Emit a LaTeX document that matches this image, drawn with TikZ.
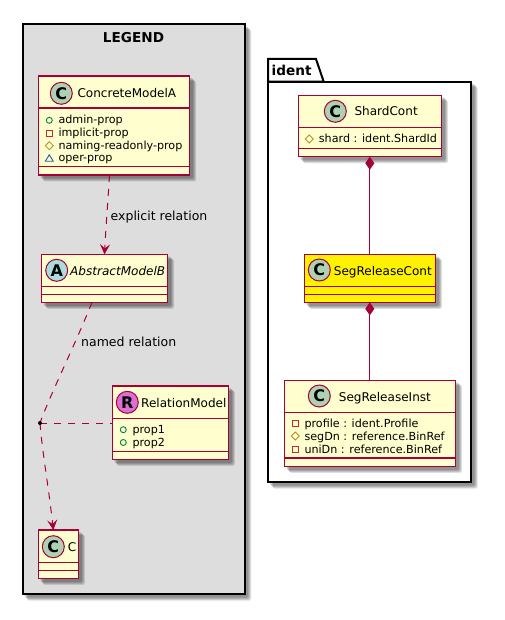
\documentclass[tikz,border=0pt]{standalone}
\usepackage{fontspec}
\setmainfont{DejaVu Sans}
\usetikzlibrary{arrows.meta,shapes.geometric}
\definecolor{umlline}{HTML}{A80036}
\definecolor{umlfill}{HTML}{FEFECE}
\definecolor{circC}{HTML}{ADD1B2}
\definecolor{circA}{HTML}{A9DCDF}
\definecolor{circR}{HTML}{DA70D6}
\definecolor{icoPub}{HTML}{038048}
\definecolor{icoPriv}{HTML}{C82930}
\definecolor{icoProt}{HTML}{B38D22}
\definecolor{icoPkg}{HTML}{1963A0}
\newcommand{\softshadow}[4]{%
  \foreach \k in {6.5,5.5,4.5,3.5}{
    \fill[black,opacity=0.13,rounded corners=1.5pt] ({#1+\k-1.5},{#2+\k-1.5}) rectangle ({#3+\k},{#4+\k});
  }}
\newcommand{\umlclass}[7]{% name x1 y1 x2 y2 fill line-y-list
  \softshadow{#2}{#3}{#4}{#5}
  \node[classbox,fill=#6,minimum width={(#4-#2)*1pt},minimum height={(#5-#3)*1pt},anchor=north west] (#1) at (#2,#3) {};
  \foreach \ly in {#7}{\draw[classline] (#2,\ly) -- (#4,\ly);}
}
\newcommand{\umlcircle}[5]{% name cx cy fill letter
  \node[circlebadge,fill=#4] (#1) at (#2,#3) {\fontsize{16}{16}\bfseries\selectfont #5};
}
\newcommand{\icoPub}[2]{\draw[icoPub,line width=0.9pt] (#1,#2) circle (3pt);}
\newcommand{\icoPriv}[2]{\draw[icoPriv,line width=0.9pt] ({#1-3},{#2-3}) rectangle ({#1+3},{#2+3});}
\newcommand{\icoProt}[2]{\draw[icoProt,line width=0.8pt] ({#1-4},#2) -- (#1,{#2-4}) -- ({#1+4},#2) -- (#1,{#2+4}) -- cycle;}
\newcommand{\icoPkg}[2]{\draw[icoPkg,line width=0.9pt] ({#1-4},{#2+3}) -- (#1,{#2-3.5}) -- ({#1+4},{#2+3}) -- cycle;}
\tikzset{
  x=1pt,y=-1pt,
  classbox/.style={draw=umlline,line width=1.5pt,inner sep=0pt,outer sep=0pt},
  classline/.style={draw=umlline,line width=1.5pt},
  circlebadge/.style={circle,draw=umlline,line width=1pt,minimum size=22pt,inner sep=0pt,text=black},
  titletext/.style={anchor=base west,inner sep=0pt,font=\fontsize{12.05}{16}\selectfont,text=black},
  attrtext/.style={anchor=base west,inner sep=0pt,font=\fontsize{11.15}{13}\selectfont,text=black},
  reltext/.style={anchor=base west,inner sep=0pt,font=\fontsize{12.5}{15}\selectfont,text=black},
  frametext/.style={inner sep=0pt,font=\fontsize{13.6}{16}\bfseries\selectfont,text=black},
  framebox/.style={draw=black,line width=2pt,inner sep=0pt,outer sep=0pt},
  depend/.style={draw=umlline,line width=1pt,dash pattern=on 7pt off 7pt},
  openhead/.style={-{Stealth[length=10pt,width=10pt,inset=4pt,fill=umlline]}},
  compose/.style={draw=umlline,line width=1pt,{Diamond[length=13pt,width=9pt,fill=umlline]}-},
}
\begin{document}
\begin{tikzpicture}
\useasboundingbox (0,0) rectangle (504,620);
\fill[white] (0,0) rectangle (504,620);
% LEGEND frame
\softshadow{22.5}{24.5}{244.5}{594}
\node[framebox,fill=black!13.5,minimum width=222pt,minimum height=569.5pt,anchor=north west] (legend) at (22.5,24.5) {};
\node[frametext,anchor=base] (legendtitle) at (133.5,43) {LEGEND};
% ident frame
\softshadow{268}{81.7}{471}{482}
\node[framebox,fill=white,minimum width=203pt,minimum height=400.3pt,anchor=north west] (identframe) at (268,81.7) {};
\draw[framebox,fill=white] (268,81.7) -- (268,59) -- (316,59) -- (323.7,81.7) -- cycle;
\node[frametext,anchor=base west] (identtitle) at (271.5,76) {ident};
% ConcreteModelA
\umlclass{cma}{38.5}{76}{189.5}{175}{umlfill}{108,166.7}
\umlcircle{cmab}{61.3}{93.3}{circC}{C}
\node[titletext] (cmat) at (77.3,98) {ConcreteModelA};
\icoPub{49.3}{120.3}\icoPriv{49.3}{133}\icoProt{49.3}{145.7}\icoPkg{49.3}{158.3}
\node[attrtext] (cma1) at (58.3,124) {admin-prop};
\node[attrtext] (cma2) at (58.3,136.7) {implicit-prop};
\node[attrtext] (cma3) at (58.3,149.4) {naming-readonly-prop};
\node[attrtext] (cma4) at (58.3,162) {oper-prop};
% AbstractModelB
\umlclass{amb}{41.5}{254.3}{167.5}{302.3}{umlfill}{286.3,294.3}
\umlcircle{ambb}{56.7}{270.3}{circA}{A}
\node[titletext,font=\fontsize{12.05}{16}\itshape\selectfont] (ambt) at (70,275) {AbstractModelB};
% RelationModel
\umlclass{rm}{112.3}{386}{228.3}{459.3}{umlfill}{418.3,451.3}
\umlcircle{rmb}{127.3}{402.3}{circR}{R}
\node[titletext] (rmt) at (141,407) {RelationModel};
\icoPub{123.3}{429.7}\icoPub{123.3}{442.5}
\node[attrtext] (rm1) at (132.3,433.5) {prop1};
\node[attrtext] (rm2) at (132.3,446.3) {prop2};
% C
\umlclass{cc}{38.3}{530}{78.3}{578.3}{umlfill}{562.3,570.3}
\umlcircle{ccb}{53.3}{546.7}{circC}{C}
\node[titletext] (cct) at (67.7,551.5) {C};
% ShardCont
\umlclass{sc}{298.3}{95.3}{441.3}{156.7}{umlfill}{127.7,148.7}
\umlcircle{scb}{335.3}{111.3}{circC}{C}
\node[titletext] (sct) at (354.3,116) {ShardCont};
\icoProt{309.3}{139}
\node[attrtext] (sc1) at (318.7,143) {shard : ident.ShardId};
% SegReleaseCont
\umlclass{src}{304.3}{254.3}{435.3}{302.3}{yellow}{286.3,294.3}
\umlcircle{srcb}{319.3}{270}{circC}{C}
\node[titletext] (srct) at (333.7,275) {SegReleaseCont};
% SegReleaseInst
\umlclass{sri}{284.3}{380.3}{455.3}{466.3}{umlfill}{412.3,458}
\umlcircle{srib}{319.3}{396}{circC}{C}
\node[titletext] (srit) at (338.7,401) {SegReleaseInst};
\icoPriv{295.3}{423}\icoProt{295.3}{436}\icoPriv{295.3}{449}
\node[attrtext] (sri1) at (304.3,427) {profile : ident.Profile};
\node[attrtext] (sri2) at (304.3,440) {segDn : reference.BinRef};
\node[attrtext] (sri3) at (304.3,453) {uniDn : reference.BinRef};
% relation point
\coordinate (relc) at (40,423);
% connectors
\draw[depend,openhead] ([xshift=-4.5pt]cma.south) .. controls (108,200) and (106,225) .. (amb.north);
\node[reltext] (lbl1) at (110.5,220) {explicit relation};
\draw[depend] ([xshift=-12.5pt]amb.south) .. controls (75,345) and (50,395) .. (relc);
\node[reltext] (lbl2) at (81,346) {named relation};
\draw[depend,openhead] (relc) .. controls (42,450) and (49,490) .. ([xshift=-5pt]cc.north);
\draw[depend] (relc) -- (rm.west |- relc);
\node[circle,fill=black,minimum size=4pt,inner sep=0pt] (relpt) at (relc) {};
\draw[compose] (sc.south) -- (src.north);
\draw[compose] (src.south) -- (sri.north);
\end{tikzpicture}
\end{document}
